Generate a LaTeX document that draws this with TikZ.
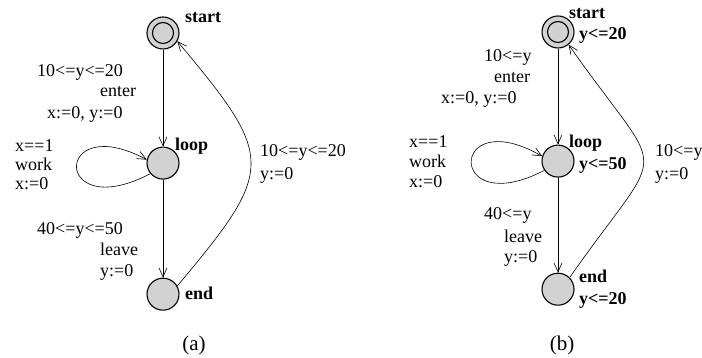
\documentclass[tikz,border=0pt]{standalone}
\usepackage{fontspec}
\setmainfont{Liberation Serif}
\usetikzlibrary{arrows.meta,positioning}
\newcommand{\fsz}{\fontsize{18}{21}\selectfont}
\tikzset{st/.style={draw,circle,fill=gray!35,line width=1.1pt,minimum size=32pt,inner sep=0pt},
 ini/.style={st,path picture={\draw[line width=1.1pt] (path picture bounding box.center) circle (10.5pt);}},
 lbl/.style={anchor=west,inner sep=0pt,text height=12pt,text depth=3.5pt,font=\fsz},
 nm/.style={lbl,font=\fsz\bfseries},
 captxt/.style={inner sep=0pt,font=\fontsize{21}{24}\selectfont},
 arr/.style={-{Straight Barb[length=9pt,width=8pt]},line width=.6pt}}
\begin{document}
\begin{tikzpicture}[x=1pt,y=1pt]
\useasboundingbox (0,0) rectangle (702,358);
% (a) without invariants
\node[ini] (s1) at (163,325) {};
\node[st,below=97pt of s1] (l1) {};
\node[st,below=98pt of l1] (e1) {};
\node[nm] (s1n) at (185,340) {start};
\node[nm] (l1n) at (175,212) {loop};
\node[nm] (e1n) at (185,63) {end};
\node[lbl] (g1) at (37,286) {10<=y<=20};
\node[lbl] (a1) at (100,266) {enter};
\node[lbl] (u1) at (47,244) {x:=0, y:=0};
\node[lbl] (g2) at (15,211) {x==1};
\node[lbl] (a2) at (15,192) {work};
\node[lbl] (u2) at (15,173) {x:=0};
\node[lbl] (g3) at (37,128) {40<=y<=50};
\node[lbl] (a3) at (100,107) {leave};
\node[lbl] (u3) at (100,86) {y:=0};
\node[lbl] (g4) at (260,206) {10<=y<=20};
\node[lbl] (u4) at (260,183) {y:=0};
\foreach \a/\b in {s1/l1,l1/e1}{\draw[arr] (\a)--(\b);}
\draw[arr] (l1.-140) .. controls +(-98,-51) and +(-94,50) .. (l1.168);
\draw[arr] (e1.30) to[out=50,in=-50,looseness=1.6] (s1.-30);
\node[captxt] (ca) at (194,13) {(a)};
% (b) with invariants
\node[ini] (s2) at (558,326) {};
\node[st,below=96pt of s2] (l2) {};
\node[st,below=95pt of l2] (e2) {};
\node[nm] (s2n) at (569,344) {start};
\node[nm] (s2i) at (579,323) {y<=20};
\node[nm] (l2n) at (569,215) {loop};
\node[nm] (l2i) at (579,193) {y<=50};
\node[nm] (e2n) at (579,80) {end};
\node[nm] (e2i) at (579,58) {y<=20};
\node[lbl] (h1) at (484,301) {10<=y};
\node[lbl] (b1) at (494,280) {enter};
\node[lbl] (v1) at (441,259) {x:=0, y:=0};
\node[lbl] (h2) at (409,215) {x==1};
\node[lbl] (b2) at (409,195) {work};
\node[lbl] (v2) at (409,175) {x:=0};
\node[lbl] (h3) at (484,143) {40<=y};
\node[lbl] (b3) at (504,120) {leave};
\node[lbl] (v3) at (504,100) {y:=0};
\node[lbl] (h4) at (655,206) {10<=y};
\node[lbl] (v4) at (655,183) {y:=0};
\foreach \a/\b in {s2/l2,l2/e2}{\draw[arr] (\a)--(\b);}
\draw[arr] (l2.-146) .. controls +(-98,-51) and +(-94,54) .. (l2.163);
\draw[arr] (e2.45) to[out=55,in=-55,looseness=1.9] (s2.-50);
\node[captxt] (cb) at (562,13) {(b)};
\end{tikzpicture}
\end{document}
